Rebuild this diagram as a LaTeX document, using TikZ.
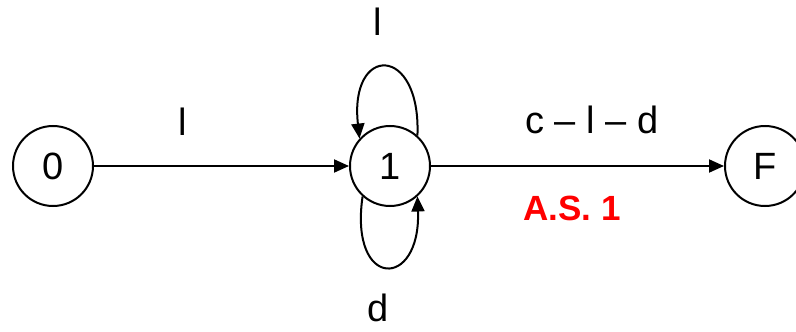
\documentclass[tikz,border=0pt]{standalone}
\usepackage{fontspec}
\setmainfont{Liberation Sans}
\usepackage{xcolor}
\usepackage{tikz}
\usetikzlibrary{arrows.meta,positioning}
\definecolor{asred}{HTML}{FF0000}
\tikzset{
  ar/.style={-{Triangle[length=15pt,width=13pt]},line width=2pt},
  state/.style={draw,circle,line width=2pt,minimum size=80pt,inner sep=0pt,font=\fontsize{38}{40}\selectfont},
  lbl/.style={anchor=base,inner sep=0pt,font=\fontsize{38}{40}\selectfont}
}
\begin{document}
\begin{tikzpicture}[x=1pt,y=-1pt]
\clip (0,0) rectangle (796,332);
\useasboundingbox (0,0) rectangle (796,332);
\node[state] (s0) at (53,166) {0};
\node[state] (s1) at (390,166) {1};
\node[state] (sF) at (765,166) {F};
\draw[ar] (s0) -- (s1);
\draw[ar] (s1) -- (sF);
\draw[ar] (s1.48) .. controls (421,44) and (349,44) .. (s1.138);
\draw[ar] (s1.228) .. controls (349,290) and (421,290) .. (s1.312);
\node[lbl] (l01) at (183,135) {l};
\node[lbl] (lup) at (378,35) {l};
\node[lbl] (ldn) at (378,321) {d};
\node[lbl] (l1F) at (592,133) {c -- l -- d};
\node[lbl,text=asred,font=\fontsize{35}{37}\selectfont\bfseries] (as1) at (572,220) {A.S. 1};
\end{tikzpicture}
\end{document}
